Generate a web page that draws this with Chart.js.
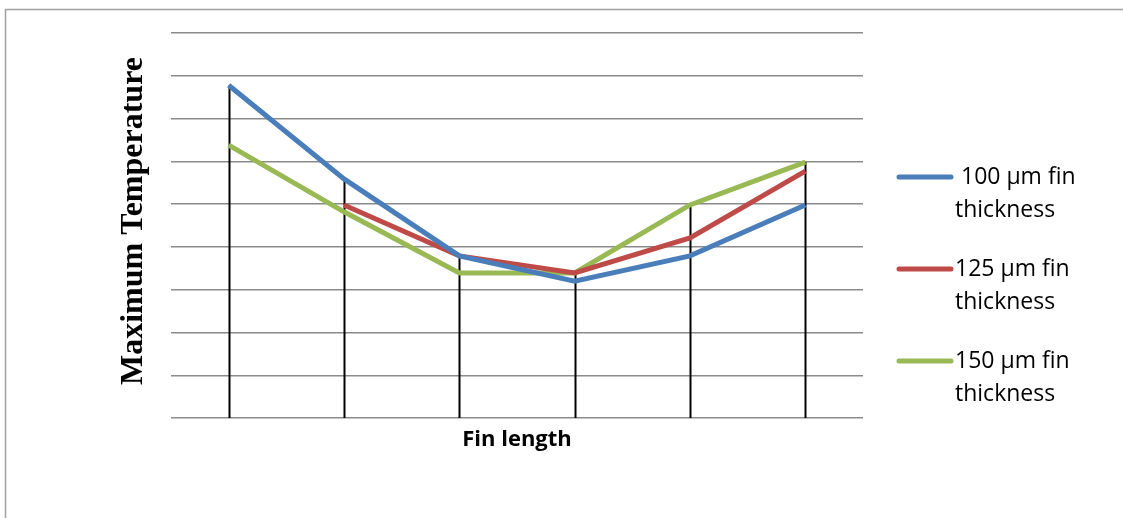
<!DOCTYPE html>
<html>
<head>
<meta charset="utf-8">
<script src="https://cdn.jsdelivr.net/npm/chart.js@4/dist/chart.umd.min.js"></script>
<style>
  html, body { margin: 0; padding: 0; background: #fff; }
  #wrap { width: 1123px; height: 518px; position: relative; }
</style>
</head>
<body>
<div id="wrap"><canvas id="myChart" width="1123" height="518"></canvas></div>
<script>
// fin length positions (unlabelled on the axis)
const categories = ['1', '2', '3', '4', '5', '6'];

const seriesNames = [' 100 µm fin thickness', '125 µm fin thickness', '150 µm fin thickness'];
const seriesColors = ['#4a7ebb', '#be4b48', '#98b954'];

const temp100 = [7.78, 5.59, 3.79, 3.2, 3.79, 4.98];
const temp125 = [null, 4.98, 3.79, 3.39, 4.21, 5.77];
const temp150 = [6.38, 4.82, 3.39, 3.39, 4.98, 5.98];

const yMin = 0, yMax = 9;

// outer frame, drawn behind everything
const framePlugin = {
    id: 'frame',
    beforeDraw(chart) {
        const ctx = chart.ctx;
        ctx.save();
        ctx.strokeStyle = '#a0a0a0';
        ctx.lineWidth = 1.5;
        ctx.beginPath();
        ctx.moveTo(5.5, 518);
        ctx.lineTo(5.5, 9.5);
        ctx.lineTo(1123, 9.5);
        ctx.stroke();
        ctx.restore();
    }
};

// vertical drop lines from the highest point of each category to the axis
const dropLines = {
    id: 'dropLines',
    beforeDatasetsDraw(chart) {
        const {ctx, scales: {x, y}} = chart;
        ctx.save();
        ctx.strokeStyle = '#000';
        ctx.lineWidth = 2;
        categories.forEach((c, i) => {
            const vals = chart.data.datasets.map(d => d.data[i]).filter(v => v != null);
            const top = Math.max(...vals);
            const px = Math.round(x.getPixelForValue(i)) + 0.5;
            ctx.beginPath();
            ctx.moveTo(px, y.getPixelForValue(top));
            ctx.lineTo(px, y.getPixelForValue(yMin));
            ctx.stroke();
        });
        ctx.restore();
    }
};

// axis titles and the two-line legend on the right
const labelsPlugin = {
    id: 'labels',
    afterDraw(chart) {
        const ctx = chart.ctx;
        const area = chart.chartArea;
        ctx.save();

        ctx.fillStyle = '#000';
        ctx.font = 'bold 22px "Open Sans"';
        ctx.textAlign = 'center';
        ctx.textBaseline = 'middle';
        ctx.fillText('Fin length', (area.left + area.right) / 2, 440);

        ctx.save();
        ctx.translate(134, 221);
        ctx.rotate(-Math.PI / 2);
        ctx.font = 'bold 32px "Liberation Serif"';
        ctx.fillText('Maximum Temperature', 0, 0);
        ctx.restore();

        ctx.textAlign = 'left';
        ctx.font = '23px "Open Sans"';
        chart.data.datasets.forEach((ds, i) => {
            const ly = 177 + i * 92;
            ctx.strokeStyle = ds.borderColor;
            ctx.lineWidth = 5;
            ctx.lineCap = 'round';
            ctx.beginPath();
            ctx.moveTo(899, ly);
            ctx.lineTo(951, ly);
            ctx.stroke();
            const words = ds.label.split(' fin ');
            ctx.fillStyle = '#000';
            ctx.fillText(words[0] + ' fin', 955, ly);
            ctx.fillText(words[1], 955, ly + 33);
        });
        ctx.restore();
    }
};

const config = {
    type: 'line',
    data: {
        labels: categories,
        datasets: [temp100, temp125, temp150].map((vals, i) => ({
            label: seriesNames[i],
            data: vals,
            borderColor: seriesColors[i],
            backgroundColor: seriesColors[i],
            borderWidth: 5,
            pointRadius: 0,
            tension: 0,
            fill: false,
            spanGaps: false
        }))
    },
    options: {
        responsive: false,
        animation: false,
        layout: {padding: {left: 171, right: 260, top: 33, bottom: 100}},
        plugins: {legend: {display: false}, tooltip: {enabled: false}},
        scales: {
            x: {
                type: 'category',
                offset: true,
                grid: {display: false, drawTicks: false},
                border: {display: false},
                ticks: {display: false}
            },
            y: {
                min: yMin,
                max: yMax,
                ticks: {display: false, stepSize: 1},
                grid: {color: '#8a8a8a', lineWidth: 1.4, drawTicks: false},
                border: {display: false}
            }
        }
    },
    plugins: [framePlugin, dropLines, labelsPlugin]
};

const myChart = new Chart(document.getElementById('myChart'), config);
</script>
</body>
</html>
